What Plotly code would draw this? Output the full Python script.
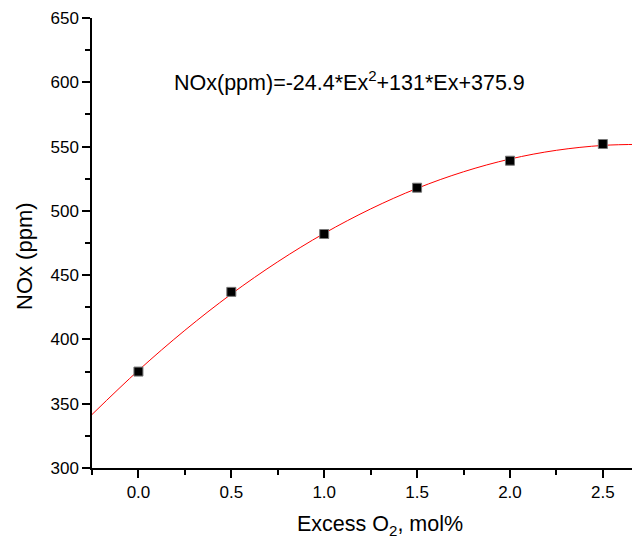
import plotly.graph_objects as go

# measured points
excess_o2 = [0.0, 0.5, 1.0, 1.5, 2.0, 2.5]
nox_ppm = [375, 437, 482, 518, 539, 552]

# fitted curve
fit_x = [-0.25, 0.0, 0.25, 0.5, 0.75, 1.0, 1.25, 1.5, 1.75, 2.0, 2.25, 2.5, 2.7]
fit_y = [341.6, 375.9, 407.1, 435.3, 460.4, 482.5, 501.5, 517.5, 530.4, 540.3, 547.1, 550.9, 551.7]

x_ticks = [0.0, 0.5, 1.0, 1.5, 2.0, 2.5]
y_ticks = [300, 350, 400, 450, 500, 550, 600, 650]

equation = "NOx(ppm)=-24.4*Ex<sup>2</sup>+131*Ex+375.9"
x_title = "Excess O<sub>2</sub>, mol%"
y_title = "NOx (ppm)"

font = "Liberation Sans, Arial, sans-serif"
OFF = 8  # page body margin
W, H = 640 - OFF, 544 - OFF
ML, MR, MT, MB = 92 - OFF, 0, 18 - OFF, 76

fig = go.Figure()
fig.add_trace(go.Scatter(x=fit_x, y=fit_y, mode="lines", line=dict(color="red", width=1, shape="spline"),
                         showlegend=False, hoverinfo="skip"))
fig.add_trace(go.Scatter(x=excess_o2, y=nox_ppm, mode="markers",
                         marker=dict(symbol="square", size=9, color="black",
                                     line=dict(color="#777777", width=1)),
                         showlegend=False))

axis_common = dict(showline=True, linecolor="black", linewidth=1.5, ticks="outside",
                   ticklen=8, tickwidth=1.5, tickcolor="black", showgrid=False, zeroline=False,
                   automargin=False,
                   tickfont=dict(family=font, size=17, color="black"))

fig.update_xaxes(range=[-0.25, 2.7], tickvals=x_ticks, ticktext=[f"{v:.1f}" for v in x_ticks],
                 minor=dict(tickvals=[-0.25, 0.25, 0.75, 1.25, 1.75, 2.25], ticks="outside", ticklen=5,
                            tickwidth=1.5, tickcolor="black"),
                 **axis_common)
fig.update_yaxes(range=[300, 650], tickvals=y_ticks,
                 minor=dict(tickvals=[325, 375, 425, 475, 525, 575, 625], ticks="outside", ticklen=5,
                            tickwidth=1.5, tickcolor="black"),
                 **axis_common)

fig.add_annotation(x=0.18, y=601, xref="x", yref="y", text=equation, showarrow=False,
                   xanchor="left", yanchor="middle", font=dict(family=font, size=21.5, color="black"))

pw, ph = W - ML - MR, H - MT - MB
fig.add_annotation(x=(380 - OFF - ML) / pw, y=(H - MB - (525 - OFF)) / ph, xref="paper", yref="paper",
                   text=x_title, showarrow=False, xanchor="center", yanchor="middle",
                   font=dict(family=font, size=21.5, color="black"))
fig.add_annotation(x=(24 - OFF - ML) / pw, y=(H - MB - (256 - OFF)) / ph, xref="paper", yref="paper",
                   text=y_title, showarrow=False, xanchor="center", yanchor="middle", textangle=-90,
                   font=dict(family=font, size=22, color="black"))

fig.update_layout(
    width=W, height=H,
    margin=dict(l=ML, r=MR, t=MT, b=MB),
    paper_bgcolor="white", plot_bgcolor="white",
)

fig.write_html("out.html")
